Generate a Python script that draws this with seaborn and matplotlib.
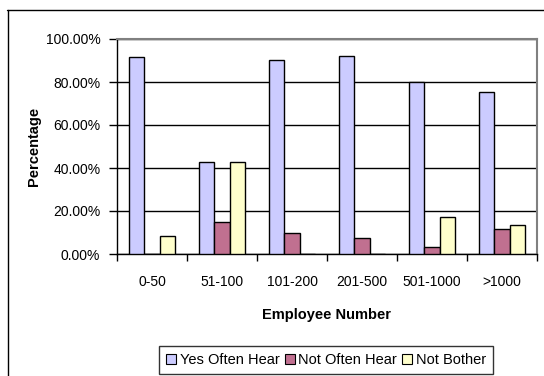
import matplotlib
matplotlib.use("Agg")
import matplotlib.pyplot as plt
from matplotlib.lines import Line2D
from matplotlib.patches import Patch
from matplotlib.ticker import FixedLocator, FuncFormatter
import seaborn as sns
import pandas as pd

# Survey results by company size
categories = ["0-50", "51-100", "101-200", "201-500", "501-1000", ">1000"]
yes_often_hear = [91.5, 43.0, 90.4, 92.3, 79.8, 75.3]
not_often_hear = [0.0, 14.7, 9.6, 7.6, 3.4, 11.4]
not_bother = [8.3, 43.0, 0.0, 0.0, 17.2, 13.3]
series_names = ["Yes Often Hear", "Not Often Hear", "Not Bother"]
series_colors = ["#CCCCFF", "#C07090", "#FFFFCC"]

rows = []
for name, vals in zip(series_names, [yes_often_hear, not_often_hear, not_bother]):
    for cat, v in zip(categories, vals):
        rows.append({"Employee Number": cat, "Response": name, "Percentage": v})
df = pd.DataFrame(rows)

sns.set_style("white")
plt.rcParams["font.family"] = ["Liberation Sans", "DejaVu Sans"]
plt.rcParams["text.color"] = "black"
plt.rcParams["axes.labelcolor"] = "black"
plt.rcParams["xtick.color"] = "black"
plt.rcParams["ytick.color"] = "black"

fig = plt.figure(figsize=(5.44, 3.76), dpi=100)
ax = fig.add_axes([117 / 544, 1 - 254 / 376, 420 / 544, 215 / 376])

sns.barplot(
    data=df, x="Employee Number", y="Percentage", hue="Response",
    order=categories, hue_order=series_names, palette=series_colors,
    width=0.67, edgecolor="black", linewidth=1.0, errorbar=None,
    saturation=1, ax=ax, zorder=3,
)
if ax.get_legend() is not None:
    ax.get_legend().remove()

ax.set_ylim(0, 100)
ax.set_xlim(-0.5, len(categories) - 0.5)
ax.set_yticks([0, 20, 40, 60, 80, 100])
ax.yaxis.set_major_formatter(FuncFormatter(lambda v, p: f"{v:.2f}%"))
ax.yaxis.grid(True, color="black", linewidth=1.0, zorder=0)
ax.set_axisbelow(True)

# Category ticks: labels at centres, tick marks between groups
ax.tick_params(axis="x", which="major", length=0, pad=15, labelsize=10)
ax.xaxis.set_minor_locator(FixedLocator([i - 0.5 for i in range(len(categories) + 1)]))
ax.tick_params(axis="x", which="minor", length=5, width=1, color="black", direction="out", bottom=True)
ax.tick_params(axis="y", length=6, width=1, color="black", direction="out", left=True, labelsize=10, pad=6)

for side in ["left", "bottom"]:
    ax.spines[side].set_color("black")
    ax.spines[side].set_linewidth(1.0)
for side in ["top", "right"]:
    ax.spines[side].set_visible(True)
    ax.spines[side].set_color("#808080")
    ax.spines[side].set_linewidth(1.5)

ax.set_xlabel("Employee Number", fontsize=10.5, fontweight="bold", labelpad=14)
ax.set_ylabel("Percentage", fontsize=10.5, fontweight="bold", labelpad=3)

# Chart area frame
fig.add_artist(Line2D([7.5 / 544, 7.5 / 544], [0, 1 - 10 / 376], color="black", linewidth=1.0, transform=fig.transFigure))
fig.add_artist(Line2D([7 / 544, 1], [1 - 10 / 376, 1 - 10 / 376], color="black", linewidth=1.0, transform=fig.transFigure))

handles = [Patch(facecolor=c, edgecolor="black", linewidth=0.8) for c in series_colors]
leg = fig.legend(
    handles, series_names, loc="center", bbox_to_anchor=(326 / 544, 1 - 360 / 376),
    ncol=3, frameon=True, fancybox=False, edgecolor="black", fontsize=10.5,
    handlelength=0.7, handleheight=0.7, handletextpad=0.25, columnspacing=0.35,
    borderpad=0.5, borderaxespad=0,
)
leg.get_frame().set_linewidth(1.0)

fig.savefig("out.png", dpi=100, facecolor="white")
